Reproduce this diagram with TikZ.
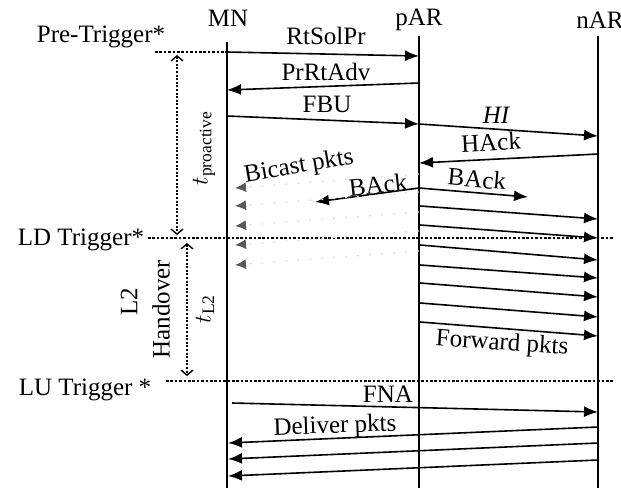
\documentclass[tikz,border=0pt]{standalone}
\usepackage{fontspec}
\setmainfont{Liberation Serif}
\usetikzlibrary{arrows.meta}
\begin{document}
\begin{tikzpicture}[x=0.5pt,y=-0.5pt,
  font=\fontsize{12.5}{14}\selectfont,
  life/.style={line width=0.8pt},
  msg/.style={line width=0.8pt,-{Latex[length=7pt,width=5.5pt]}},
  trig/.style={line width=0.8pt,dash pattern=on 1.3pt off 0.9pt},
  spanarrow/.style={line width=0.7pt,dash pattern=on 1pt off 0.8pt,
    {Straight Barb[length=2.5pt,width=6pt]}-{Straight Barb[length=2.5pt,width=6pt]}},
  bic/.style={black!14,line width=0.6pt,dash pattern=on 1pt off 5pt,
    -{Latex[length=5.5pt,width=5pt,color=black!65]}},
  lbl/.style={inner sep=1pt}]
\useasboundingbox (0,0) rectangle (621,488);

% lifelines
\node[lbl] (MN) at (228,18) {MN};
\node[lbl] (pAR) at (419,20) {pAR};
\node[lbl] (nAR) at (600,20) {nAR};
\coordinate (MNt) at (227,42);  \coordinate (MNb) at (227,488);
\coordinate (pARt) at (419,36); \coordinate (pARb) at (419,488);
\coordinate (nARt) at (598,36); \coordinate (nARb) at (598,488);
\draw[life] (MNt) -- (MNb);
\draw[life] (pARt) -- (pARb);
\draw[life] (nARt) -- (nARb);

% triggers
\node[lbl] (pre) at (101,37) {Pre-Trigger*};
\node[lbl] (ld) at (81,240) {LD Trigger*};
\node[lbl] (lu) at (85,390) {LU Trigger *};
\coordinate (preL) at (155,52);  \coordinate (preR) at (227,52);
\coordinate (ldL) at (148,238);  \coordinate (ldR) at (614,238);
\coordinate (luL) at (166,381);  \coordinate (luR) at (614,381);
\draw[trig] (preL) -- (preR);
\draw[trig] (ldL) -- (ldR);
\draw[trig] (luL) -- (luR);

% time spans
\coordinate (tp1) at (177,55);  \coordinate (tp2) at (177,235);
\draw[spanarrow] (tp1) -- (tp2);
\node[lbl,rotate=90] (tpro) at (204,148) {$t_{\mathrm{proactive}}$};
\coordinate (tl1) at (187,243); \coordinate (tl2) at (187,376);
\draw[spanarrow] (tl1) -- (tl2);
\node[lbl,rotate=90] (l2) at (129,302) {L2};
\node[lbl,rotate=90] (ho) at (161,309) {Handover};
\node[lbl,rotate=90] (tl2) at (205,309) {$t_{\mathrm{L2}}$};

% messages MN <-> pAR
\coordinate (a1) at (227,52);  \coordinate (b1) at (419,56);
\draw[msg] (a1) -- (b1);
\node[lbl] (rts) at (326,36) {RtSolPr};
\coordinate (a2) at (419,83);  \coordinate (b2) at (227,90);
\draw[msg] (a2) -- (b2);
\node[lbl] (prr) at (326,72) {PrRtAdv};
\coordinate (a3) at (227,116); \coordinate (b3) at (419,124);
\draw[msg] (a3) -- (b3);
\node[lbl] (fbu) at (327,104) {FBU};

% pAR <-> nAR
\coordinate (a4) at (419,124); \coordinate (b4) at (598,136);
\draw[msg] (a4) -- (b4);
\node[lbl] (hi) at (496,115) {\itshape HI};
\coordinate (a5) at (598,154); \coordinate (b5) at (419,163);
\draw[msg] (a5) -- (b5);
\node[lbl,rotate=3] (hack) at (491,142) {HAck};

% BAck
\coordinate (bk) at (419,188);
\coordinate (bkL) at (315,202); \coordinate (bkR) at (528,197);
\draw[msg] (bk) -- (bkL);
\draw[msg] (bk) -- (bkR);
\node[lbl,inner sep=0pt,rotate=6] (backl) at (378,185) {BAck};
\node[lbl,rotate=-5] (backr) at (477,179) {BAck};

% bicast
\node[lbl,inner sep=0pt,rotate=10] (bicast) at (299,167) {Bicast pkts};
\foreach \y [count=\i] in {188,206,226,245,265}{
  \coordinate (bs\i) at (419,\y-14);
  \coordinate (be\i) at (235,\y);
  \draw[bic] (bs\i) -- (be\i);
}

% forwarding
\foreach \s/\e [count=\i] in {206/219,225/238,245/260,265/278,283/297,303/317,322/336}{
  \coordinate (fs\i) at (420,\s);
  \coordinate (fe\i) at (598,\e);
  \draw[msg] (fs\i) -- (fe\i);
}
\node[lbl,rotate=-4] (fwd) at (502,344) {Forward pkts};

% FNA
\coordinate (fnaS) at (232,403); \coordinate (fnaE) at (598,412);
\draw[msg] (fnaS) -- (fnaE);
\node[lbl] (fna) at (388,394) {FNA};

% deliver
\foreach \s/\e [count=\i] in {427/443,443/459,460/476}{
  \coordinate (ds\i) at (598,\s);
  \coordinate (de\i) at (228,\e);
  \draw[msg] (ds\i) -- (de\i);
}
\node[lbl,rotate=2] (dlv) at (335,427) {Deliver pkts};
\end{tikzpicture}
\end{document}
